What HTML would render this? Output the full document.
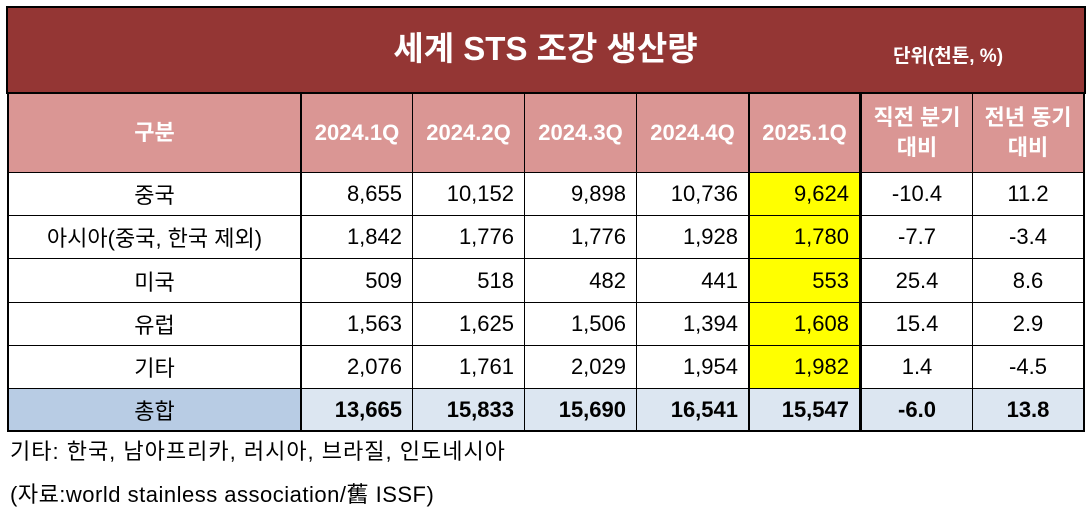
<!DOCTYPE html>
<html><head><meta charset="utf-8"><style>
body{margin:0;width:1091px;height:508px;background:#fff;position:relative;overflow:hidden;font-family:"Liberation Sans","Noto Sans CJK KR",sans-serif}
.c{position:absolute;box-sizing:border-box;display:flex;align-items:center;font-size:22px;color:#000}
.r{justify-content:flex-end;padding-right:10px}
.m{justify-content:center;text-align:center}
.h{background:#DA9694;color:#fff;font-weight:bold;font-size:22px;line-height:30px}
.note{position:absolute;left:10px;font-size:22px;color:#000;line-height:26px}
</style></head><body>
<div style="position:absolute;left:6px;top:6px;width:1080px;height:88px;background:#943634;border:2px solid #000;box-sizing:border-box"></div>
<div style="position:absolute;left:0;width:1091px;top:29px;text-align:center;color:#fff;font-weight:bold;font-size:33px;line-height:40px">세계 STS 조강 생산량</div>
<div style="position:absolute;left:893px;top:45px;color:#fff;font-weight:bold;font-size:19px;line-height:24px">단위(천톤, %)</div>
<div id="t"></div>
<div class="note" style="top:439px;letter-spacing:1px">기타: 한국, 남아프리카, 러시아, 브라질, 인도네시아</div>
<div class="note" style="top:482px;letter-spacing:0.5px">(자료:world stainless association/舊 ISSF)</div>
<script>
const xs=[7,300,412,524,636,748,860,972,1084];
const ys=[93,172,215,258,302,345,388,431];
const headers=["구분","2024.1Q","2024.2Q","2024.3Q","2024.4Q","2025.1Q","직전 분기<br>대비","전년 동기<br>대비"];
const regions=["중국","아시아(중국, 한국 제외)","미국","유럽","기타","총합"];
const q1_24=["8,655","1,842","509","1,563","2,076","13,665"];
const q2_24=["10,152","1,776","518","1,625","1,761","15,833"];
const q3_24=["9,898","1,776","482","1,506","2,029","15,690"];
const q4_24=["10,736","1,928","441","1,394","1,954","16,541"];
const q1_25=["9,624","1,780","553","1,608","1,982","15,547"];
const qoq=["-10.4","-7.7","25.4","15.4","1.4","-6.0"];
const yoy=["11.2","-3.4","8.6","2.9","-4.5","13.8"];
const cols=[regions,q1_24,q2_24,q3_24,q4_24,q1_25,qoq,yoy];
const T=document.getElementById('t');
function cell(c,r,html,cls,style){
  const d=document.createElement('div');
  d.className='c '+cls;
  d.style.left=xs[c]+'px';d.style.top=ys[r]+'px';
  d.style.width=(xs[c+1]-xs[c]+1)+'px';d.style.height=(ys[r+1]-ys[r]+1)+'px';
  d.style.cssText+=style;
  d.innerHTML=html;
  
  
  T.appendChild(d);
}
for(let c=0;c<8;c++){
  const thick=[0,1,5,6].includes(c);
  cell(c,0,headers[c],'h m','border:1px solid #000;border-left:'+(thick?'2px':'1px')+' solid #000;border-right:'+(c===7||c===5?'2px':'1px')+' solid #000;');
  for(let r=0;r<6;r++){
    const total=r===5;
    let bg=total?(c===0?'#B8CCE4':'#DCE6F1'):(c===5?'#FFFF00':'#fff');
    const cls=(c===0||c>=6)?'m':'r';
    cell(c,r+1,cols[c][r],cls,'background:'+bg+';border:1px solid #000;'+(thick?'border-left:2px solid #000;':'')+(c===7||c===5?'border-right:2px solid #000;':'')+(total?'font-weight:'+(c===0?'normal':'bold')+';border-bottom:2px solid #000;':''));
  }
}
</script>
</body></html>
